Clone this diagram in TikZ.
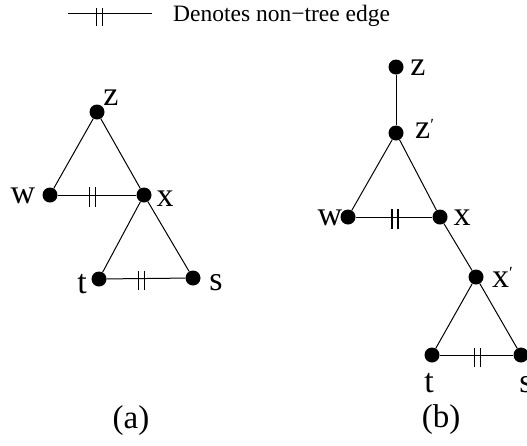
\documentclass[tikz,border=0pt]{standalone}
\usepackage{fontspec}
\setmainfont{Liberation Serif}
\newcommand\ntticks[3]{%
  \draw[tickmark] ([xshift=-3pt,yshift=#2]#1) -- ([xshift=-3pt,yshift=-#3]#1);
  \draw[tickmark] ([xshift=3pt,yshift=#2]#1) -- ([xshift=3pt,yshift=-#3]#1);}
\newcommand\smallprime[1]{\raisebox{#1}{\fontsize{17}{17}\selectfont ′}}
\begin{document}
\begin{tikzpicture}[x=1pt,y=-1pt,
  vtx/.style={circle,fill=black,inner sep=0pt,minimum size=15pt},
  edge/.style={line width=1pt},
  tickmark/.style={line width=1.5pt},
  lab/.style={inner sep=0pt,anchor=base,font=\fontsize{34}{34}\selectfont},
  captext/.style={inner sep=0pt,font=\fontsize{33}{33}\selectfont},
  legend/.style={inner sep=0pt,anchor=base west,font=\fontsize{23.5}{23.5}\selectfont}]
\useasboundingbox (0,0) rectangle (527,445);

% legend
\coordinate (lg1) at (68,13);
\coordinate (lg2) at (152,13);
\coordinate (lgm) at (99.5,13);
\draw[edge] (lg1) -- (lg2);
\ntticks{lgm}{5pt}{13pt}
\node[legend] (legtext) at (173,21) {Denotes non−tree edge};

% (a)
\node[vtx] (az) at (97,112) {};
\node[vtx] (aw) at (50,195) {};
\node[vtx] (ax) at (144,195) {};
\node[vtx] (at) at (99,279) {};
\node[vtx] (as) at (193,278) {};
\draw[edge] (az) -- (aw);
\draw[edge] (az) -- (ax);
\draw[edge] (aw) -- (ax);
\draw[edge] (ax) -- (at);
\draw[edge] (ax) -- (as);
\draw[edge] (at) -- (as);
\coordinate (awx) at (92.5,195);
\coordinate (ats) at (141.5,279);
\ntticks{awx}{8pt}{12pt}
\ntticks{ats}{8pt}{11pt}
\node[lab] (laz) at (111,105) {z};
\node[lab] (law) at (23,203) {w};
\node[lab] (lax) at (165,206) {x};
\node[lab] (lat) at (82,293) {t};
\node[lab] (las) at (216,290) {s};
\node[captext] (capa) at (131,421) {(a)};

% (b)
\node[vtx] (bz) at (396,67) {};
\node[vtx] (bzp) at (396,133) {};
\node[vtx] (bw) at (348,217) {};
\node[vtx] (bx) at (440,217) {};
\node[vtx] (bxp) at (476,277) {};
\node[vtx] (bt) at (432,355) {};
\node[vtx] (bs) at (521,355) {};
\draw[edge] (bz) -- (bzp);
\draw[edge] (bzp) -- (bw);
\draw[edge] (bzp) -- (bx);
\draw[edge] (bw) -- (bx);
\draw[edge] (bx) -- (bxp);
\draw[edge] (bxp) -- (bt);
\draw[edge] (bxp) -- (bs);
\draw[edge] (bt) -- (bs);
\coordinate (bwx) at (395,217);
\coordinate (bts) at (477.5,356);
\ntticks{bwx}{8pt}{12pt}
\ntticks{bts}{8pt}{11pt}
\node[lab] (lbz) at (418,75) {z};
\node[lab,anchor=base west] (lbzp) at (415,138) {z\smallprime{8pt}};
\node[lab] (lbw) at (330,225) {w};
\node[lab] (lbx) at (462,225) {x};
\node[lab,anchor=base west] (lbxp) at (492,287) {x\smallprime{9pt}};
\node[lab] (lbt) at (429,392) {t};
\node[lab] (lbs) at (526,392) {s};
\node[captext] (capb) at (441,420) {(b)};
\end{tikzpicture}
\end{document}
